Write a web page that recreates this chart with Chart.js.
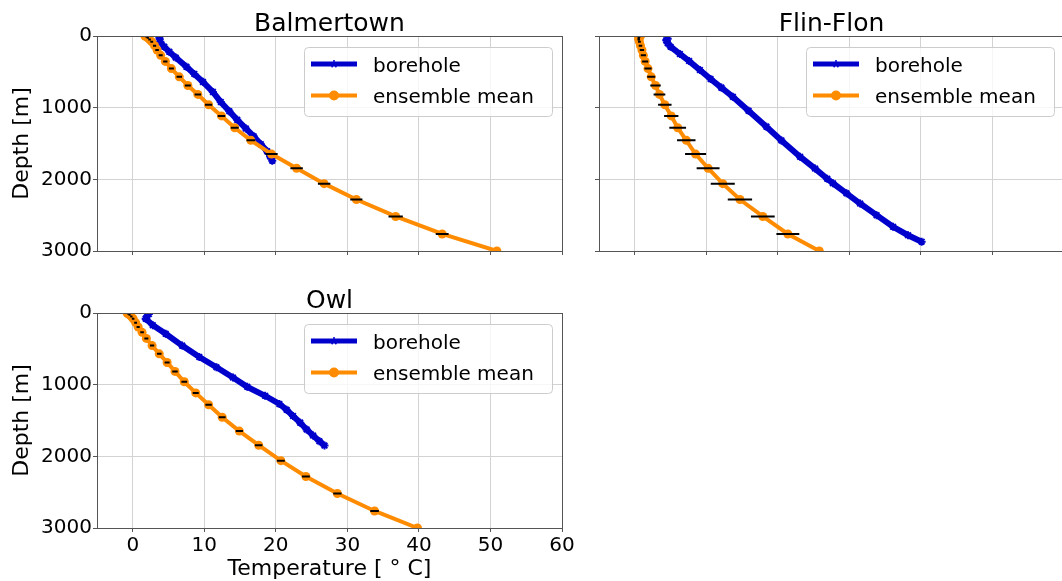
<!DOCTYPE html>
<html>
<head>
<meta charset="utf-8">
<title>Borehole temperature profiles</title>
<script src="https://cdn.jsdelivr.net/npm/chart.js@4.4.1/dist/chart.umd.min.js"></script>
<style>
  html, body { margin: 0; padding: 0; background: #fff; overflow: hidden; }
  #fig { position: relative; width: 1062px; height: 581px; overflow: hidden; background: #fff; }
  #fig canvas { position: absolute; }
</style>
</head>
<body>
<div id="fig">
  <canvas id="balmertown" width="580" height="270" style="left:0;top:0"></canvas>
  <canvas id="flinflon" width="500" height="270" style="left:580px;top:0"></canvas>
  <canvas id="owl" width="580" height="311" style="left:0;top:270px"></canvas>
</div>
<script>
// axes
const xTicks = [0, 10, 20, 30, 40, 50, 60];
const yTicks = [0, 1000, 2000, 3000];
const tempRange = [-5, 60];
const depthRange = [0, 3000];
const seriesNames = ['borehole', 'ensemble mean'];

// model layer depths [m] used by the ensemble mean
const layerDepth = [0, 10, 25, 50, 80, 135, 195, 270, 355, 455, 570, 690, 815, 960,
  1115, 1280, 1455, 1648, 1845, 2060, 2282, 2518, 2762, 3000];

// Balmertown
const balmertownMean = [1.7, 1.9, 2.1, 2.35, 2.65, 3.05, 3.4, 3.9, 4.55, 5.4, 6.5, 7.7, 9.1, 10.6,
  12.4, 14.25, 16.5, 19.4, 22.9, 26.75, 31.25, 36.75, 43.25, 50.9];
const balmertownSpread = [0.1, 0.12, 0.15, 0.18, 0.2, 0.22, 0.25, 0.28, 0.3, 0.35, 0.38, 0.42, 0.45, 0.5,
  0.52, 0.55, 0.6, 0.85, 0.87, 0.87, 0.85, 1.0, 0.9, 0.9];
const balmertownBoreDepth = [10, 40, 80, 150, 220, 300, 430, 530, 640, 780, 920, 1050, 1170, 1290,
  1400, 1510, 1610, 1680, 1740];
const balmertownBoreTemp = [3.7, 3.75, 3.85, 4.4, 5.1, 6.0, 7.5, 8.6, 9.8, 11.2, 12.3, 13.5, 14.6, 15.8,
  16.9, 17.9, 18.8, 19.2, 19.5];

// Flin-Flon
const flinFlonMean = [0.8, 0.65, 0.55, 0.55, 0.65, 0.8, 1.0, 1.2, 1.45, 1.85, 2.3, 2.9, 3.45, 4.2,
  5.1, 6.0, 7.2, 8.5, 10.25, 12.3, 14.7, 17.9, 21.4, 25.8];
const flinFlonSpread = [0.12, 0.14, 0.16, 0.18, 0.2, 0.25, 0.3, 0.36, 0.42, 0.5, 0.56, 0.73, 0.82, 0.94,
  1.0, 1.17, 1.29, 1.47, 1.6, 1.68, 1.7, 1.66, 1.6, 1.6];
const flinFlonBoreDepth = [40, 60, 100, 150, 250, 350, 474, 600, 720, 847, 1042, 1265, 1458, 1684,
  1850, 1991, 2055, 2195, 2338, 2500, 2662, 2780, 2870];
const flinFlonBoreTemp = [4.6, 4.4, 4.6, 5.0, 6.3, 7.6, 9.1, 10.6, 12.1, 13.7, 15.9, 18.4, 20.5, 23.1,
  25.2, 26.9, 27.7, 29.6, 31.5, 33.8, 36.1, 38.2, 40.1];

// Owl
const owlMean = [-0.8, -0.65, -0.45, -0.2, 0.05, 0.4, 0.75, 1.3, 1.9, 2.7, 3.7, 4.8, 5.9, 7.2,
  8.8, 10.6, 12.5, 14.9, 17.6, 20.7, 24.2, 28.6, 33.8, 39.8];
const owlSpread = [0.1, 0.12, 0.14, 0.16, 0.18, 0.2, 0.22, 0.25, 0.28, 0.3, 0.32, 0.35, 0.38, 0.4,
  0.42, 0.45, 0.48, 0.5, 0.52, 0.55, 0.55, 0.58, 0.6, 0.6];
const owlBoreDepth = [15, 45, 80, 170, 290, 455, 615, 757, 900, 1030, 1155, 1270, 1350, 1437,
  1530, 1625, 1710, 1790, 1850];
const owlBoreTemp = [2.25, 2.0, 1.8, 2.8, 4.6, 6.9, 9.3, 11.7, 14.0, 16.0, 18.5, 20.5, 21.5, 22.4,
  23.4, 24.3, 25.2, 26.1, 26.8];

const FONT = 'DejaVu Sans';
const BLUE = '#0000cd';
const ORANGE = '#ff8c00';
const GRID = '#d3d3d3';
const SPINE = '#555555';

Chart.defaults.font.family = FONT;
Chart.defaults.color = '#000';

function pairUp(xs, ys) {
  return xs.map((x, i) => ({ x, y: ys[i] }));
}

// horizontal spread bars, one segment per layer, broken apart by null points
function errorBars(mean, spread) {
  const pts = [];
  layerDepth.forEach((d, i) => {
    if (d >= depthRange[1]) return;
    pts.push({ x: mean[i] - spread[i], y: d }, { x: mean[i] + spread[i], y: d }, { x: null, y: null });
  });
  return pts;
}

function drawStar(ctx, x, y, r) {
  ctx.beginPath();
  for (let k = 0; k < 5; k++) {
    const ang = -Math.PI / 2 + k * 2 * Math.PI / 5;
    ctx.moveTo(x, y);
    ctx.lineTo(x + r * Math.cos(ang), y + r * Math.sin(ang));
  }
  ctx.stroke();
}

// axes frame, centred title and the boxed legend
const panelDecor = {
  id: 'panelDecor',
  afterDatasetsDraw(chart, _args, opts) {
    const { ctx, chartArea: a } = chart;
    ctx.save();

    ctx.strokeStyle = SPINE;
    ctx.lineWidth = 1;
    ctx.strokeRect(a.left + 0.5, a.top + 0.5, a.right - a.left, a.bottom - a.top);

    ctx.fillStyle = '#000';
    ctx.font = `25px "${FONT}"`;
    ctx.textAlign = 'center';
    ctx.textBaseline = 'alphabetic';
    ctx.fillText(opts.title, (a.left + a.right) / 2, a.top - 5);

    const w = 248, h = 69;
    const bx = a.right - 10 - w, by = a.top + 11;
    ctx.beginPath();
    if (ctx.roundRect) ctx.roundRect(bx + 0.5, by + 0.5, w, h, 4);
    else ctx.rect(bx + 0.5, by + 0.5, w, h);
    ctx.fillStyle = 'rgba(255,255,255,0.8)';
    ctx.fill();
    ctx.strokeStyle = '#cccccc';
    ctx.stroke();

    const rows = [
      { label: seriesNames[0], color: BLUE, width: 5, mark: 'star' },
      { label: seriesNames[1], color: ORANGE, width: 4, mark: 'circle' }
    ];
    rows.forEach((row, i) => {
      const ry = by + 17 + i * 31.5;
      const x0 = bx + 7, x1 = bx + 53, xm = (x0 + x1) / 2;
      ctx.strokeStyle = row.color;
      ctx.lineWidth = row.width;
      ctx.beginPath();
      ctx.moveTo(x0, ry);
      ctx.lineTo(x1, ry);
      ctx.stroke();
      if (row.mark === 'circle') {
        ctx.fillStyle = row.color;
        ctx.beginPath();
        ctx.arc(xm, ry, 5, 0, Math.PI * 2);
        ctx.fill();
      } else {
        ctx.lineWidth = 1.5;
        drawStar(ctx, xm, ry, 4);
      }
      ctx.fillStyle = '#000';
      ctx.font = `20px "${FONT}"`;
      ctx.textAlign = 'left';
      ctx.fillText(row.label, bx + 69, ry + 7.5);
    });

    ctx.restore();
  }
};

function drawSite(canvasId, title, bore, mean, spread, frame) {
  const ctx = document.getElementById(canvasId).getContext('2d');
  return new Chart(ctx, {
    type: 'scatter',
    data: {
      datasets: [
        {
          label: seriesNames[0],
          data: pairUp(bore.temp, bore.depth),
          showLine: true,
          borderColor: BLUE,
          backgroundColor: BLUE,
          borderWidth: 6,
          pointStyle: 'star',
          pointRadius: 4,
          pointBorderWidth: 2,
          pointBorderColor: BLUE,
          order: 2,
          clip: 0
        },
        {
          label: seriesNames[1],
          data: pairUp(mean, layerDepth),
          showLine: true,
          borderColor: ORANGE,
          backgroundColor: ORANGE,
          borderWidth: 4,
          pointStyle: 'circle',
          pointRadius: 4.5,
          pointBorderWidth: 0,
          order: 1,
          clip: 0
        },
        {
          label: 'spread',
          data: errorBars(mean, spread),
          showLine: true,
          borderColor: '#000',
          borderWidth: 2,
          pointRadius: 0,
          order: 0,
          clip: 0
        }
      ]
    },
    options: {
      responsive: false,
      animation: false,
      events: [],
      layout: { padding: { top: frame.top, right: frame.right, bottom: 0, left: 0 } },
      plugins: {
        legend: { display: false },
        tooltip: { enabled: false },
        panelDecor: { title }
      },
      scales: {
        x: {
          type: 'linear',
          min: tempRange[0],
          max: tempRange[1],
          afterBuildTicks: ax => { ax.ticks = xTicks.map(v => ({ value: v })); },
          afterFit: ax => { ax.height = frame.xHeight; },
          grid: { color: GRID, tickColor: SPINE, tickLength: 4 },
          border: { display: false },
          ticks: {
            display: frame.showX, autoSkip: false, maxRotation: 0, padding: 2,
            font: { size: 20 }, callback: v => String(v)
          },
          title: {
            display: frame.showX,
            text: 'Temperature [ ° C]',
            font: { size: 22, lineHeight: 1 },
            padding: { top: 0, bottom: 1 }
          }
        },
        y: {
          type: 'linear',
          reverse: true,
          min: depthRange[0],
          max: depthRange[1],
          afterBuildTicks: ax => { ax.ticks = yTicks.map(v => ({ value: v })); },
          afterFit: ax => { ax.width = frame.yWidth; },
          grid: { color: GRID, tickColor: SPINE, tickLength: 4 },
          border: { display: false },
          ticks: { display: frame.showY, padding: 1, font: { size: 20 }, callback: v => String(v) },
          title: {
            display: frame.showY,
            text: 'Depth [m]',
            font: { size: 22, lineHeight: 1.2 },
            padding: { top: 9, bottom: 0 }
          }
        }
      }
    },
    plugins: [panelDecor]
  });
}

drawSite('balmertown', 'Balmertown',
  { depth: balmertownBoreDepth, temp: balmertownBoreTemp }, balmertownMean, balmertownSpread,
  { top: 36, right: 18, xHeight: 19, yWidth: 97, showX: false, showY: true });

drawSite('flinflon', 'Flin-Flon',
  { depth: flinFlonBoreDepth, temp: flinFlonBoreTemp }, flinFlonMean, flinFlonSpread,
  { top: 36, right: 16, xHeight: 19, yWidth: 19, showX: false, showY: false });

drawSite('owl', 'Owl',
  { depth: owlBoreDepth, temp: owlBoreTemp }, owlMean, owlSpread,
  { top: 43, right: 18, xHeight: 53, yWidth: 97, showX: true, showY: true });
</script>
</body>
</html>
